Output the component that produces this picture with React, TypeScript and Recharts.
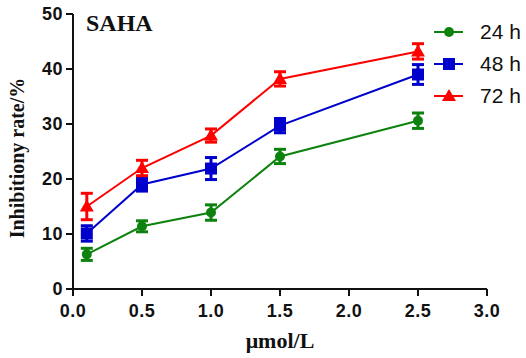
import React from 'react';
import { LineChart, Line, XAxis, YAxis, ErrorBar } from 'recharts';

const doses = [0.1, 0.5, 1.0, 1.5, 2.5];
const rate24 = [6.3, 11.4, 13.9, 24.1, 30.6];
const err24 = [1.1, 1.0, 1.4, 1.3, 1.4];
const rate48 = [10.1, 19.0, 21.9, 29.7, 39.0];
const err48 = [1.4, 1.2, 2.0, 1.3, 1.8];
const rate72 = [15.0, 22.0, 27.9, 38.2, 43.2];
const err72 = [2.4, 1.4, 1.2, 1.3, 1.4];
const xTicks = [0, 0.5, 1.0, 1.5, 2.0, 2.5, 3.0];
const yTicks = [0, 10, 20, 30, 40, 50];

const GREEN = '#0e820e';
const BLUE = '#0000cc';
const RED = '#ff0000';

const data = doses.map((d, i) => ({
    dose: d,
    h24: rate24[i], e24: err24[i],
    h48: rate48[i], e48: err48[i],
    h72: rate72[i], e72: err72[i],
}));

const Marker = ({ kind, cx, cy, color }: { kind: string; cx: number; cy: number; color: string }) => {
    if (kind === 'circle') return <circle cx={cx} cy={cy} r={5} fill={color} />;
    if (kind === 'square') return <rect x={cx - 6} y={cy - 6} width={12} height={12} fill={color} />;
    return <polygon points={`${cx},${cy - 7} ${cx - 7},${cy + 5} ${cx + 7},${cy + 5}`} fill={color} />;
};

const dotFor = (kind: string, color: string) => (p: any) => (
    <Marker key={`${kind}-${p.index}`} kind={kind} cx={p.cx} cy={p.cy} color={color} />
);

const legendItems = [
    { name: '24 h', kind: 'circle', color: GREEN, y: 32 },
    { name: '48 h', kind: 'square', color: BLUE, y: 64 },
    { name: '72 h', kind: 'triangle', color: RED, y: 96 },
];

const tickStyle = { fontFamily: 'Liberation Sans, Arial', fontSize: 18, fontWeight: 700, fill: '#111', letterSpacing: 0.5 };
const serif = 'Liberation Serif, Times New Roman, serif';

export default function App() {
    return (
        <div style={{ position: 'absolute', left: 0, top: 0, background: '#fff' }}>
            <LineChart width={526} height={358} data={data}
                margin={{ top: 14, right: 39, bottom: 39, left: 0 }}>
                <XAxis
                    dataKey="dose" type="number" domain={[0, 3]} ticks={xTicks}
                    tickFormatter={(v: number) => v.toFixed(1)}
                    height={30} tickSize={7} tickMargin={8}
                    tick={tickStyle}
                    axisLine={{ stroke: '#111', strokeWidth: 2 }}
                    tickLine={{ stroke: '#111', strokeWidth: 2 }}
                />
                <YAxis
                    domain={[0, 50]} ticks={yTicks} width={73}
                    tickSize={7} tickMargin={3}
                    tick={tickStyle}
                    axisLine={{ stroke: '#111', strokeWidth: 2 }}
                    tickLine={{ stroke: '#111', strokeWidth: 2 }}
                />
                <Line dataKey="h24" stroke={GREEN} strokeWidth={2} isAnimationActive={false}
                    dot={dotFor('circle', GREEN)} activeDot={false}>
                    <ErrorBar dataKey="e24" width={6} stroke={GREEN} strokeWidth={3} />
                </Line>
                <Line dataKey="h48" stroke={BLUE} strokeWidth={2} isAnimationActive={false}
                    dot={dotFor('square', BLUE)} activeDot={false}>
                    <ErrorBar dataKey="e48" width={6} stroke={BLUE} strokeWidth={3} />
                </Line>
                <Line dataKey="h72" stroke={RED} strokeWidth={2} isAnimationActive={false}
                    dot={dotFor('triangle', RED)} activeDot={false}>
                    <ErrorBar dataKey="e72" width={6} stroke={RED} strokeWidth={3} />
                </Line>
                <g>
                    <text x={86} y={31} fontFamily={serif} fontSize={24} fontWeight={700} fill="#111">SAHA</text>
                    <text x={0} y={0} transform="translate(24,158) rotate(-90)" textAnchor="middle"
                        fontFamily={serif} fontSize={20} fontWeight={700} fill="#111">Inhibitiony rate/%</text>
                    <text x={280} y={348} textAnchor="middle" fontFamily={serif} fontSize={22}
                        fontWeight={700} fill="#111">μmol/L</text>
                    {legendItems.map((it) => (
                        <g key={it.name}>
                            <line x1={434} x2={463} y1={it.y} y2={it.y} stroke={it.color} strokeWidth={2} />
                            <Marker kind={it.kind} cx={449} cy={it.y} color={it.color} />
                            <text x={480} y={it.y + 7} fontFamily="Liberation Sans, Arial" fontSize={21} fill="#111">{it.name}</text>
                        </g>
                    ))}
                </g>
            </LineChart>
        </div>
    );
}
